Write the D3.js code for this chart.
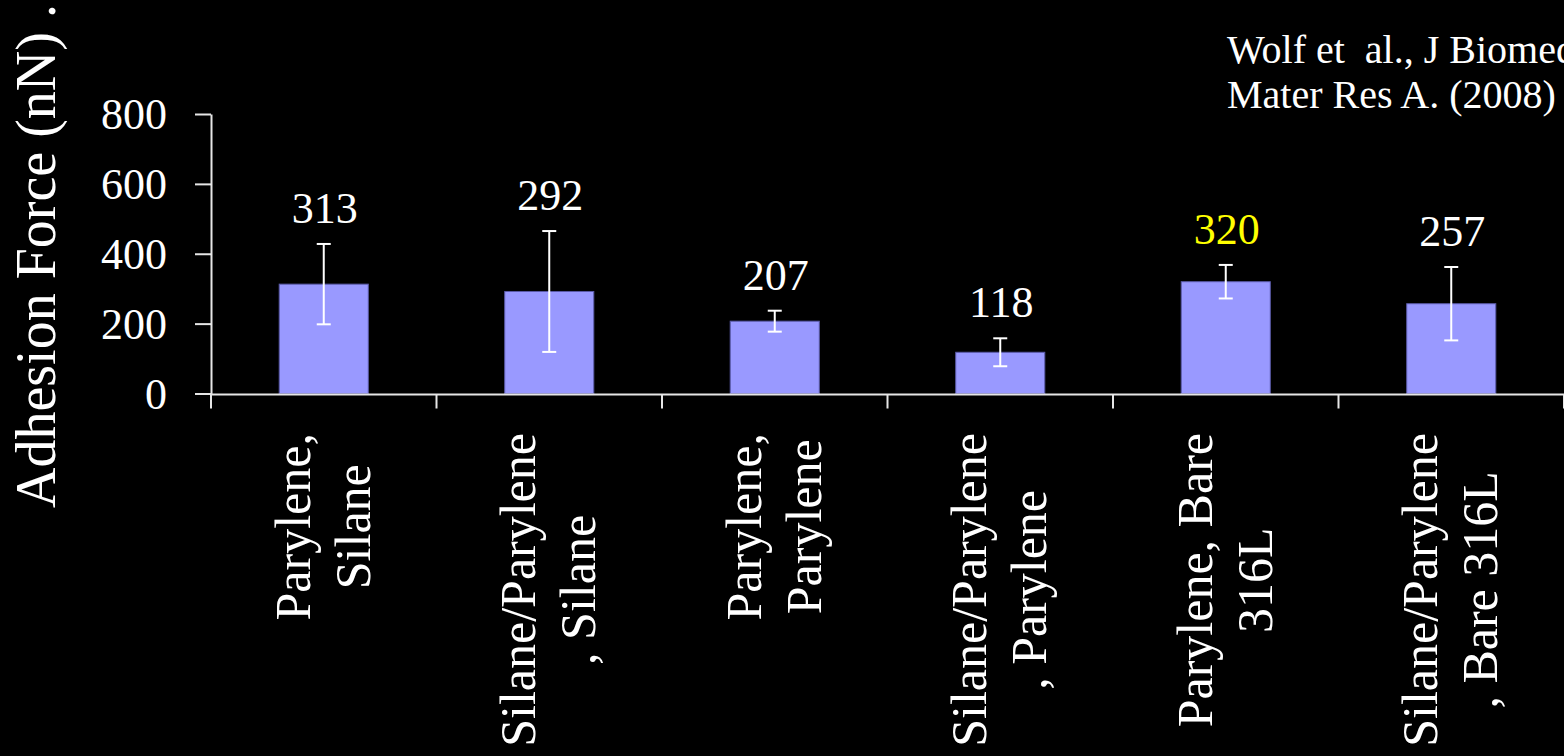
<!DOCTYPE html>
<html>
<head>
<meta charset="utf-8">
<script src="https://cdn.jsdelivr.net/npm/d3@7"></script>
<style>
  html, body { margin: 0; padding: 0; background: #000; overflow: hidden; }
  svg { display: block; background: #000; }
  text { font-family: "Liberation Serif", "Times New Roman", serif; fill: #fff; }
</style>
</head>
<body>
<svg id="chart" width="1564" height="756"></svg>
<script>
// Adhesion force per coating pair (nN), with standard deviation
const categories = [
  ["Parylene,", "Silane"],
  ["Silane/Parylene", ", Silane"],
  ["Parylene,", "Parylene"],
  ["Silane/Parylene", ", Parylene"],
  ["Parylene, Bare", "316L"],
  ["Silane/Parylene", ", Bare 316L"]
];
const forces = [313, 292, 207, 118, 320, 257];
const errors = [115, 173, 30, 40, 48, 105];
const labelColors = ["#ffffff", "#ffffff", "#ffffff", "#ffffff", "#ffff00", "#ffffff"];
const yTicks = [0, 200, 400, 600, 800];
const yTitle = "Adhesion Force (nN) .";
const citation = ["Wolf et  al., J Biomed", "Mater Res A. (2008)"];

const svg = d3.select("#chart");
const keys = categories.map((c, i) => i);
const plotLeft = 211, plotRight = 1564, plotTop = 114, plotBase = 393.5;

const x = d3.scaleBand().domain(keys).range([plotLeft, plotRight])
  .paddingInner(0.605).paddingOuter(0.3025);
const step = x.step();
const y = d3.scaleLinear().domain([0, 800]).range([plotBase, plotTop]);

const axisColor = "#e6e6e6";

// y axis
const yAxis = svg.append("g")
  .attr("transform", `translate(${plotLeft},0)`)
  .call(d3.axisLeft(y).tickValues(yTicks).tickSize(16).tickPadding(28).tickSizeOuter(0));
yAxis.select(".domain").attr("stroke", axisColor).attr("stroke-width", 2);
yAxis.selectAll(".tick line").attr("stroke", axisColor).attr("stroke-width", 2);
yAxis.selectAll(".tick text")
  .attr("fill", "#fff")
  .style("font-family", '"Liberation Serif", serif')
  .style("font-size", "44px")
  .attr("dy", "0.33em");

// bars
svg.append("g").selectAll("rect")
  .data(keys)
  .join("rect")
  .attr("x", i => x(i))
  .attr("width", x.bandwidth())
  .attr("y", i => y(forces[i]))
  .attr("height", i => y(0) - y(forces[i]))
  .attr("fill", "#9999ff")
  .attr("stroke", "#5a5aa8")
  .attr("stroke-width", 1);

// error bars
const eb = svg.append("g").attr("stroke", "#fff").attr("stroke-width", 2);
keys.forEach(i => {
  const cx = x(i) + x.bandwidth() / 2;
  const hi = y(forces[i] + errors[i]);
  const lo = y(forces[i] - errors[i]);
  eb.append("line").attr("x1", cx).attr("x2", cx).attr("y1", hi).attr("y2", lo);
  eb.append("line").attr("x1", cx - 7).attr("x2", cx + 7).attr("y1", hi).attr("y2", hi);
  eb.append("line").attr("x1", cx - 7).attr("x2", cx + 7).attr("y1", lo).attr("y2", lo);
});

// value labels
svg.append("g").selectAll("text")
  .data(keys)
  .join("text")
  .attr("x", i => x(i) + x.bandwidth() / 2 + 1)
  .attr("y", i => y(forces[i] + errors[i]) - 21)
  .attr("text-anchor", "middle")
  .style("font-size", "44px")
  .style("fill", i => labelColors[i])
  .text(i => forces[i]);

// x axis line with boundary ticks
const xAxis = svg.append("g").attr("stroke", axisColor).attr("stroke-width", 2);
xAxis.append("line").attr("x1", plotLeft).attr("x2", plotRight).attr("y1", plotBase + 1).attr("y2", plotBase + 1);
d3.range(categories.length + 1).forEach(k => {
  const bx = plotLeft + k * step;
  xAxis.append("line").attr("x1", bx).attr("x2", bx).attr("y1", plotBase + 1).attr("y2", plotBase + 15);
});

// rotated category labels, lines centred on each other, block top near the axis
const labelTop = 433;
keys.forEach(i => {
  const cx = x(i) + x.bandwidth() / 2;
  const g = svg.append("g");
  const texts = categories[i].map((line, j) =>
    g.append("text")
      .attr("x", 0)
      .attr("y", j === 0 ? -14 : 46)
      .attr("text-anchor", "middle")
      .style("font-size", "50px")
      .style("white-space", "pre")
      .text(line)
  );
  const maxLen = d3.max(texts, t => t.node().getComputedTextLength());
  g.attr("transform", `translate(${cx},${labelTop + maxLen / 2}) rotate(-90)`);
});

// y axis title
svg.append("text")
  .attr("transform", "translate(55,508) rotate(-90)")
  .attr("text-anchor", "start")
  .style("font-size", "56px")
  .style("white-space", "pre")
  .text(yTitle);

// citation
citation.forEach((line, j) => {
  svg.append("text")
    .attr("x", 1227)
    .attr("y", 63 + j * 45)
    .style("font-size", "40px")
    .style("white-space", "pre")
    .text(line);
});
</script>
</body>
</html>
